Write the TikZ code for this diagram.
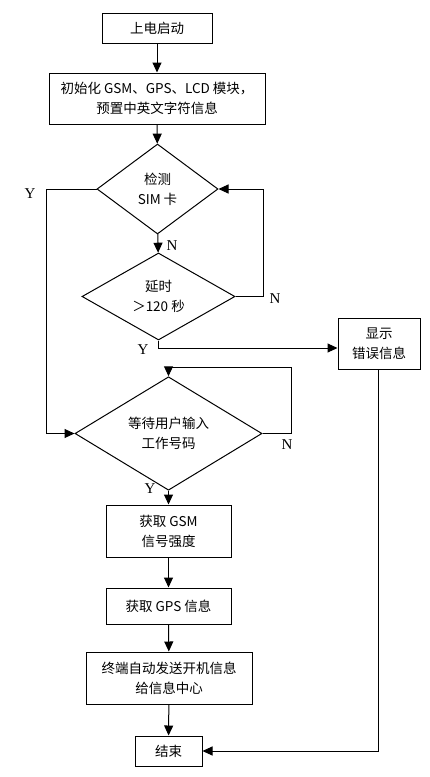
\documentclass[tikz,border=0pt]{standalone}
\usepackage{fontspec}
\setmainfont{Noto Sans CJK SC}
\newfontfamily\yn{Liberation Serif}
\usetikzlibrary{shapes.geometric,arrows.meta}
\begin{document}
\begin{tikzpicture}[x=1pt,y=-1pt,line width=1pt,
  every node/.style={font=\fontsize{13.5}{20}\selectfont},
  box/.style={draw,rectangle,inner sep=0pt,align=center},
  dia/.style={draw,diamond,inner sep=0pt,align=center},
  arr/.style={-{Triangle[length=10pt,width=9pt]}},
  lab/.style={font=\yn\fontsize{15}{15}\selectfont,inner sep=0pt}]
\useasboundingbox (0,0) rectangle (429,777);
\node[box,minimum width=110,minimum height=30] (b1) at (157,28) {上电启动};
\node[box,minimum width=216,minimum height=51] (b2) at (157,98.5) {初始化 GSM、GPS、LCD 模块，\\预置中英文字符信息};
\node[dia,minimum width=121,minimum height=90] (d1) at (157.5,189) {检测\\SIM 卡};
\node[dia,minimum width=153,minimum height=87] (d2) at (158.5,296.5) {延时\\＞120 秒};
\node[box,minimum width=82,minimum height=51] (err) at (379,343.5) {显示\\错误信息};
\node[dia,minimum width=187,minimum height=85] (d3) at (168.5,433.5) {等待用户输入\\工作号码};
\node[box,minimum width=125,minimum height=52] (gsm) at (168.5,531) {获取 GSM\\信号强度};
\node[box,minimum width=125,minimum height=36] (gps) at (168.5,606) {获取 GPS 信息};
\node[box,minimum width=166,minimum height=52] (send) at (169,678) {终端自动发送开机信息\\给信息中心};
\node[box,minimum width=67,minimum height=30] (end) at (168.5,751) {结束};
\coordinate (c1) at (263,296.5);
\coordinate (c2) at (46,189);
\coordinate (c3) at (291,433.5);
\coordinate (c4) at (291,367);
\coordinate (c5) at (378,751);
\draw[arr] (b1) -- (b2);
\draw[arr] (b2) -- (d1);
\draw[arr] (d1) -- (d2);
\draw[arr] (d2.east) -- (c1) |- (d1.east);
\draw[arr] (d1.west) -- (c2) |- (d3.west);
\draw[arr] (d2.south) |- ([yshift=-4.5pt]err.west);
\draw[arr] (d3.east) -- (c3) -- (c4) -| (d3.north);
\draw[arr] (d3) -- (gsm);
\draw[arr] (gsm) -- (gps);
\draw[arr] (gps) -- (send);
\draw[arr] (send) -- (end);
\draw[arr] (err.south -| c5) -- (c5) -- (end.east);
\node[lab] (y1) at (30,194) {Y};
\node[lab] (n1) at (172,246) {N};
\node[lab] (n2) at (275,299) {N};
\node[lab] (y2) at (143,350) {Y};
\node[lab] (n3) at (287,445) {N};
\node[lab] (y3) at (150,489) {Y};
\end{tikzpicture}
\end{document}
